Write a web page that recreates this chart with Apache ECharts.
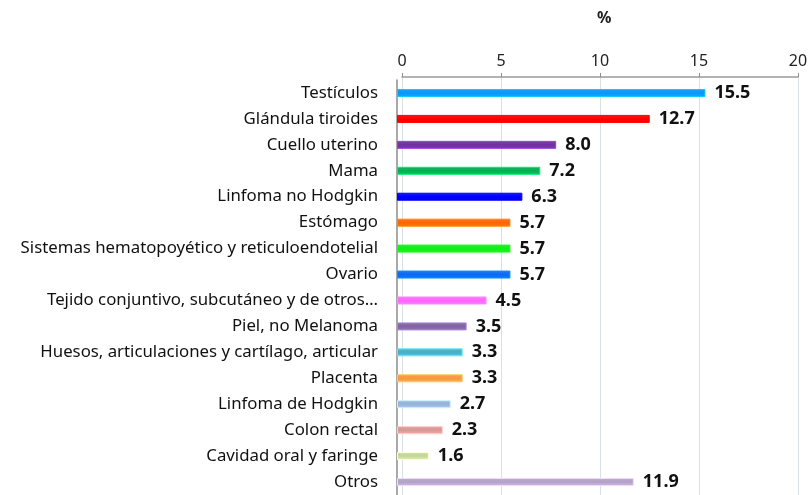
<!DOCTYPE html>
<html>
<head>
<meta charset="utf-8">
<style>
  html, body { margin: 0; padding: 0; background: #fff; }
  #chart { width: 811px; height: 495px; }
</style>
<script src="https://cdn.jsdelivr.net/npm/echarts@6/dist/echarts.min.js"></script>
</head>
<body>
<div id="chart"></div>
<script>
// data, top to bottom
var categories = [
  'Testículos', 'Glándula tiroides', 'Cuello uterino', 'Mama',
  'Linfoma no Hodgkin', 'Estómago', 'Sistemas hematopoyético y reticuloendotelial',
  'Ovario', 'Tejido conjuntivo, subcutáneo y de otros…', 'Piel, no Melanoma',
  'Huesos, articulaciones y cartílago, articular', 'Placenta', 'Linfoma de Hodgkin',
  'Colon rectal', 'Cavidad oral y faringe', 'Otros'
];
var values = [15.5, 12.7, 8.0, 7.2, 6.3, 5.7, 5.7, 5.7, 4.5, 3.5, 3.3, 3.3, 2.7, 2.3, 1.6, 11.9];
var barColors = [
  '#0a96f5', '#ff0000', '#7030a0', '#00b050', '#0000ff', '#ff6600', '#11ee11', '#0a6af5',
  '#ff66ff', '#8064a2', '#4bacc6', '#f79646', '#95b3d7', '#d99694', '#c3d69b', '#b3a2c7'
];
var xTicks = [0, 5, 10, 15, 20];

var chart = echarts.init(document.getElementById('chart'));

var items = values.map(function (v, i) {
  var c = barColors[i];
  return {
    value: v,
    itemStyle: {
      color: new echarts.graphic.LinearGradient(0, 0, 0, 1, [
        { offset: 0, color: echarts.color.lift(c, 0.1) },
        { offset: 0.5, color: c },
        { offset: 1, color: echarts.color.lift(c, -0.15) }
      ]),
      borderColor: echarts.color.lift(c, -0.35),
      borderWidth: 1
    }
  };
});

var font = 'Noto Sans';

chart.setOption({
  animation: false,
  title: {
    text: '%',
    left: 592, top: 5,
    textStyle: { fontFamily: font, fontSize: 16, fontWeight: 'bold', color: '#222' }
  },
  // back wall (ticks, grid lines) and front face (bars) of the 3D-looking chart
  grid: [
    { left: 402, right: 13, top: 77, height: 418 },
    { left: 397, right: 16, top: 80, height: 417 }
  ],
  xAxis: [{
    gridIndex: 0, type: 'value', position: 'top',
    min: xTicks[0], max: xTicks[xTicks.length - 1], interval: 5,
    axisLine: { show: true, lineStyle: { color: '#9a9a9a', width: 1.5 } },
    axisTick: { show: true, length: 4, lineStyle: { color: '#8c8c8c' } },
    axisLabel: { fontFamily: font, fontSize: 16, color: '#222', margin: 8 },
    splitLine: { show: true, lineStyle: { color: '#d8e0ea' } }
  }, {
    gridIndex: 1, type: 'value', position: 'top',
    min: xTicks[0], max: xTicks[xTicks.length - 1],
    axisLine: { show: false }, axisTick: { show: false },
    axisLabel: { show: false }, splitLine: { show: false }
  }],
  yAxis: [{
    gridIndex: 0, type: 'category', inverse: true, data: categories,
    axisLine: { show: false }, axisTick: { show: false }, axisLabel: { show: false }
  }, {
    gridIndex: 1, type: 'category', inverse: true, data: categories,
    axisLine: { show: true, lineStyle: { color: '#8c8c8c', width: 1.5 } },
    axisTick: { show: false },
    axisLabel: { fontFamily: font, fontSize: 16.8, color: '#111', margin: 19 }
  }],
  series: [{
    type: 'bar',
    xAxisIndex: 1, yAxisIndex: 1,
    data: items,
    barWidth: 8,
    label: {
      show: true, position: 'right', distance: 9,
      fontFamily: font, fontSize: 18, fontWeight: 'bold', color: '#111',
      formatter: function (p) { return p.value.toFixed(1); }
    }
  }]
});
</script>
</body>
</html>
